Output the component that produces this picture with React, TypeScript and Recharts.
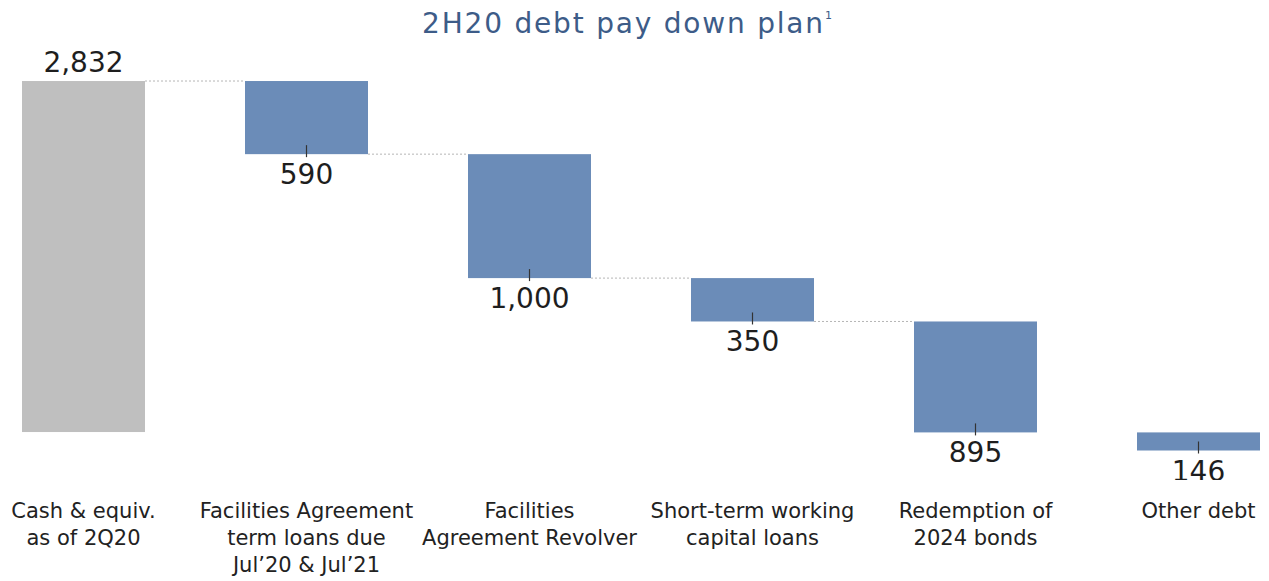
import React from 'react'
import { ComposedChart, Bar, XAxis, YAxis } from 'recharts'

const categories = [
  'Cash & equiv.\nas of 2Q20',
  'Facilities Agreement\nterm loans due\nJul’20 & Jul’21',
  'Facilities\nAgreement Revolver',
  'Short-term working\ncapital loans',
  'Redemption of\n2024 bonds',
  'Other debt',
]

// starting cash, then each repayment
const amounts = [2832, -590, -1000, -350, -895, -146]

const CHART_W = 1338
const CHART_H = 581
const FONT = '"DejaVu Sans", sans-serif'
const STEP = CHART_W / categories.length

let running = 0
const rows = categories.map((name, i) => {
  const start = i === 0 ? 0 : running
  running = i === 0 ? amounts[0] : running + amounts[i]
  const lo = Math.min(start, running)
  const hi = Math.max(start, running)
  return { name, amount: amounts[i], range: [lo, hi] as [number, number] }
})

const WaterfallBar = (props: any) => {
  const { x, y, width, height, index, payload } = props
  const top = Math.min(y, y + height)
  const h = Math.abs(height)
  const bottom = top + h
  const cx = x + width / 2
  const isStart = index === 0
  // no connector into the final bar
  const hasConnector = index < categories.length - 2
  const label = Math.abs(payload.amount).toLocaleString('en-US')
  const level = isStart ? top : bottom
  return (
    <g>
      <rect x={x} y={top} width={width} height={h} fill={isStart ? '#BFBFBF' : '#6B8CB8'} />
      {hasConnector && (
        <line x1={x + width} x2={x + STEP} y1={level} y2={level} stroke="#b5b5b5" strokeWidth={1} strokeDasharray="2 2" />
      )}
      {!isStart && <line x1={cx} x2={cx} y1={bottom - 9} y2={bottom + 3} stroke="#333" strokeWidth={1.2} />}
      <text
        x={cx}
        y={isStart ? top - 9 : bottom + 30}
        textAnchor="middle"
        fontFamily={FONT}
        fontSize={28}
        fill="#1e1e1e"
      >
        {label}
      </text>
    </g>
  )
}

const CategoryTick = (props: any) => {
  const { x, y, payload } = props
  const lines = String(payload.value).split('\n')
  return (
    <text x={x} y={y + 38} textAnchor="middle" fontFamily={FONT} fontSize={21} fill="#222">
      {lines.map((line, i) => (
        <tspan key={i} x={x} dy={i === 0 ? 0 : 27}>
          {line}
        </tspan>
      ))}
    </text>
  )
}

export default function App() {
  return (
    <div
      style={{
        position: 'relative',
        width: 1269,
        height: 581,
        margin: '-8px 0 0 -8px',
        overflow: 'hidden',
        background: '#fff',
      }}
    >
      <div style={{ position: 'absolute', left: -28, top: 0 }}>
        <ComposedChart width={CHART_W} height={CHART_H} data={rows} margin={{ top: 40, right: 0, bottom: 0, left: 0 }}>
          <XAxis
            dataKey="name"
            height={101}
            interval={0}
            axisLine={false}
            tickLine={false}
            tickSize={0}
            tickMargin={0}
            tick={<CategoryTick />}
          />
          <YAxis hide type="number" domain={[-387, 3163]} allowDataOverflow />
          <Bar dataKey="range" barSize={123} shape={<WaterfallBar />} isAnimationActive={false} />
        </ComposedChart>
      </div>
      <svg width={1269} height={60} style={{ position: 'absolute', left: 0, top: 0 }}>
        <text x={627} y={33} textAnchor="middle" fontFamily={FONT} fontSize={28} letterSpacing={1.8} fill="#3d5c88">
          2H20 debt pay down plan
          <tspan fontSize={11} dy={-14} letterSpacing={0}>1</tspan>
        </text>
      </svg>
    </div>
  )
}
